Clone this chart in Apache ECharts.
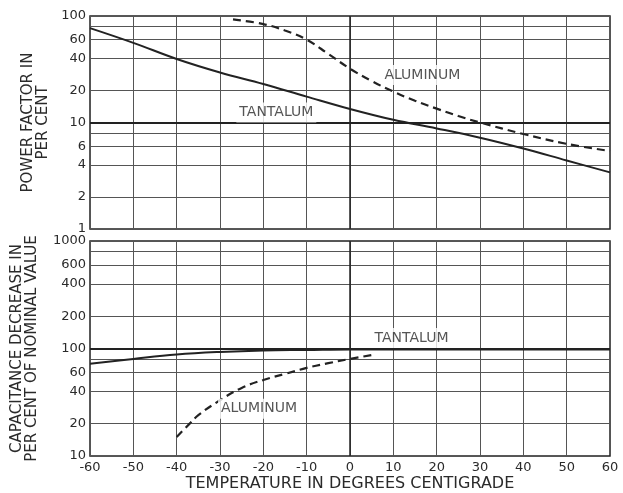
<!DOCTYPE html>
<html>
<head>
<meta charset="utf-8">
<script src="https://cdn.jsdelivr.net/npm/echarts@6/dist/echarts.min.js"></script>
<style>
  html, body { margin: 0; padding: 0; background: #fff; }
  #main { width: 623px; height: 493px; }
</style>
</head>
<body>
<div id="main"></div>
<script>
// 温度 (°C)
const temps = [-60, -50, -40, -30, -20, -10, 0, 10, 20, 30, 40, 50, 60];
// 上图: 功率因数 %
const pfTantalum = [77, 56, 39.5, 29.5, 23, 17.5, 13.4, 10.6, 8.8, 7.2, 5.7, 4.4, 3.4];
const pfAlumTemps = [-27, -20, -15, -10, -5, 0, 5, 10, 15, 20, 25, 30, 40, 50, 60];
const pfAluminum = [93, 84, 73, 60, 44, 32, 24.5, 19.5, 16, 13.5, 11.5, 10, 7.8, 6.3, 5.4];
// 下图: 电容变化 %
const capTantalum = [72, 80, 88, 93, 96, 97, 98, 98, 98, 98, 98, 98, 98];
const capAlumTemps = [-40, -37, -35, -30, -25, -20, -15, -10, -5, 0, 5];
const capAluminum = [15, 20, 24, 33, 43, 51, 58, 66, 73, 80, 87];
// 刻度
const pfGrid = [1, 2, 4, 6, 8, 10, 20, 40, 60, 80, 100];
const pfLabels = [1, 2, 4, 6, 10, 20, 40, 60, 100];
const capGrid = [10, 20, 40, 60, 80, 100, 200, 400, 600, 800, 1000];
const capLabels = [10, 20, 40, 60, 100, 200, 400, 600, 1000];

const FONT = "DejaVu Sans";
const INK = "#222";
const TXT = "#2a2a2a";
const lg = (v) => Math.log10(v);
const pairs = (xs, ys) => xs.map((x, i) => [x, lg(ys[i])]);

const chart = echarts.init(document.getElementById("main"), null, { renderer: "canvas" });

const yAxisBase = (min, max, grid, labels, name, gap) => ({
  type: "value",
  min: lg(min),
  max: lg(max),
  name: name,
  nameLocation: "middle",
  nameGap: gap,
  nameRotate: 90,
  nameTextStyle: { fontFamily: FONT, fontSize: 15, color: TXT, lineHeight: 15 },
  axisLine: { show: false },
  axisTick: { show: false, customValues: grid.map(lg) },
  axisLabel: {
    customValues: labels.map(lg),
    formatter: (v) => String(Math.round(Math.pow(10, v))),
    fontFamily: FONT,
    fontSize: 13,
    color: TXT,
    margin: 4,
  },
  splitLine: { show: true, lineStyle: { color: "#555", width: 1 } },
});

const xAxisBase = (gridIndex, showLabel) => ({
  type: "value",
  gridIndex: gridIndex,
  min: -60,
  max: 60,
  interval: 10,
  axisLine: { show: false },
  axisTick: { show: false },
  axisLabel: { show: showLabel, fontFamily: FONT, fontSize: 13, color: TXT, margin: 5 },
  splitLine: { show: true, lineStyle: { color: "#555", width: 1 } },
  name: showLabel ? "TEMPERATURE IN DEGREES CENTIGRADE" : "",
  nameLocation: "middle",
  nameGap: 20,
  nameTextStyle: { fontFamily: FONT, fontSize: 16, color: TXT },
});

// 粗参考线 (10% / 100% 与 0°C)
const refLines = (yv) => ({
  silent: true,
  symbol: "none",
  label: { show: false },
  lineStyle: { color: INK, width: 2, type: "solid" },
  data: [{ yAxis: lg(yv) }, { xAxis: 0, lineStyle: { width: 1.5 } }],
});

const textLabel = (xi, yi, text, x, y) => ({
  type: "scatter",
  xAxisIndex: xi,
  yAxisIndex: yi,
  symbolSize: 0,
  silent: true,
  z: 5,
  data: [[x, lg(y), text]],
  label: {
    show: true,
    position: "inside",
    formatter: (p) => p.value[2],
    fontFamily: FONT,
    fontSize: 14,
    color: TXT,
    backgroundColor: "#fff",
    padding: [3, 3],
  },
});

const option = {
  backgroundColor: "#fff",
  animation: false,
  grid: [
    { left: 90, right: 13, top: 16, height: 213, show: true, borderColor: INK, borderWidth: 1.5, backgroundColor: "transparent" },
    { left: 90, right: 13, top: 241, height: 216, show: true, borderColor: INK, borderWidth: 1.5, backgroundColor: "transparent" },
  ],
  xAxis: [xAxisBase(0, false), xAxisBase(1, true)],
  yAxis: [
    Object.assign(yAxisBase(1, 100, pfGrid, pfLabels, "POWER FACTOR IN\nPER CENT", 31), { gridIndex: 0 }),
    Object.assign(yAxisBase(10, 1000, capGrid, capLabels, "CAPACITANCE DECREASE IN\nPER CENT OF NOMINAL VALUE", 50), { gridIndex: 1 }),
  ],
  series: [
    {
      name: "Tantalum PF",
      type: "line",
      xAxisIndex: 0,
      yAxisIndex: 0,
      smooth: 0.4,
      symbol: "none",
      data: pairs(temps, pfTantalum),
      lineStyle: { color: INK, width: 2 },
      markLine: refLines(10),
      z: 3,
    },
    {
      name: "Aluminum PF",
      type: "line",
      xAxisIndex: 0,
      yAxisIndex: 0,
      smooth: 0.4,
      symbol: "none",
      data: pairs(pfAlumTemps, pfAluminum),
      lineStyle: { color: INK, width: 2.2, type: [8, 5] },
      z: 3,
    },
    {
      name: "Tantalum C",
      type: "line",
      xAxisIndex: 1,
      yAxisIndex: 1,
      smooth: 0.4,
      symbol: "none",
      data: pairs(temps, capTantalum),
      lineStyle: { color: INK, width: 2 },
      markLine: refLines(100),
      z: 3,
    },
    {
      name: "Aluminum C",
      type: "line",
      xAxisIndex: 1,
      yAxisIndex: 1,
      smooth: 0.4,
      symbol: "none",
      data: pairs(capAlumTemps, capAluminum),
      lineStyle: { color: INK, width: 2.2, type: [8, 5] },
      z: 3,
    },
    textLabel(0, 0, "TANTALUM", -17, 12.4),
    textLabel(0, 0, "ALUMINUM", 16.7, 28),
    textLabel(1, 1, "TANTALUM", 14.2, 125),
    textLabel(1, 1, "ALUMINUM", -21, 27.5),
  ],
};

chart.setOption(option);
</script>
</body>
</html>
